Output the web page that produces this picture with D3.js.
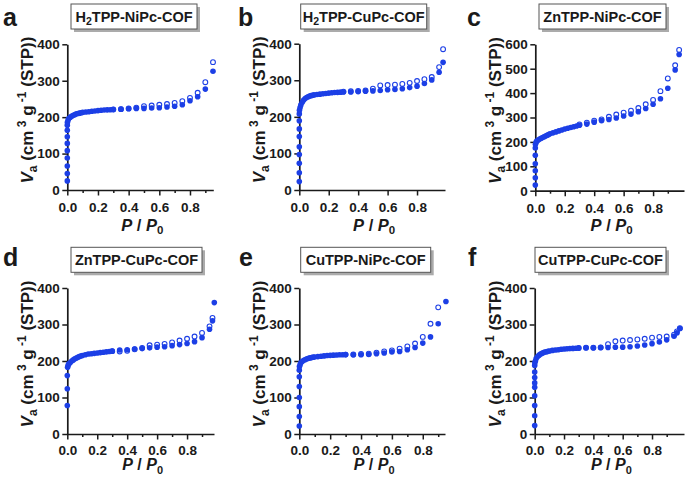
<!DOCTYPE html>
<html><head><meta charset="utf-8">
<script src="https://cdn.jsdelivr.net/npm/d3@7"></script>
<style>
body{margin:0;background:#fff}
svg{display:block}
text{font-family:Arial,"Liberation Sans",sans-serif;font-weight:bold;fill:#1a1a1a}
</style>
</head><body>
<svg id="chart" width="685" height="478"></svg>
<script>
// ---------- DATA ----------
const panelLetters = ["a","b","c","d","e","f"];
const titleParts = [
  ["H","2","TPP-NiPc-COF"],
  ["H","2","TPP-CuPc-COF"],
  ["ZnTPP-NiPc-COF"],
  ["ZnTPP-CuPc-COF"],
  ["CuTPP-NiPc-COF"],
  ["CuTPP-CuPc-COF"]
];
const xTickLabels = [0.0,0.2,0.4,0.6,0.8];
const xMinorTicks = [0.1,0.3,0.5,0.7,0.9];
const yMaxes = [400,400,600,400,400,400];

// a: H2TPP-NiPc-COF
const aAdsP = [0,0,0,0,0,0,0,0,0,0.001,0.005,0.01,0.02,0.03,0.04,0.05,0.06,0.07,0.08,0.09,0.1,0.12,0.14,0.16,0.18,0.2,0.22,0.24,0.26,0.28,0.3,0.35,0.4,0.45,0.5,0.55,0.6,0.65,0.7,0.75,0.8,0.85,0.9,0.95];
const aAdsV = [25,45,66,88,108,128,146,164,178,186,192,196,200,203,205,207,209,210,211,212,213,214,215,216,217,218,219,219.5,220,220.5,221,222,223,224,224,225,226,228,230,234,245,256,277,326];
const aDesP = [0.95,0.9,0.85,0.8,0.75,0.7,0.65,0.6,0.55,0.5,0.45,0.4,0.35,0.3];
const aDesV = [351,296,267,253,244,239,236,234,232,230,226,224,222,221];

// b: H2TPP-CuPc-COF
const bAdsP = [0,0,0,0,0,0,0,0,0,0.001,0.005,0.01,0.02,0.03,0.04,0.05,0.06,0.07,0.08,0.09,0.1,0.12,0.14,0.16,0.18,0.2,0.22,0.24,0.26,0.28,0.3,0.35,0.4,0.45,0.5,0.55,0.6,0.65,0.7,0.75,0.8,0.85,0.9,0.95,0.977];
const bAdsV = [23,47,73,97,118,146,167,189,208,218,225,232,240,246,250,253,255,257,258,259,260,261,262,263,264,265,266,266.5,267,267.5,268,268,269,270,271,272,274,275,277,280,284,291,301,322,349];
const bDesP = [0.977,0.95,0.9,0.85,0.8,0.75,0.7,0.65,0.6,0.55,0.5,0.45,0.4,0.35,0.3];
const bDesV = [385,336,309,303,298,293,290,288,287,286,277,272,271,270,269];

// c: ZnTPP-NiPc-COF
const cAdsP = [0,0,0,0,0,0,0.001,0.005,0.01,0.02,0.03,0.04,0.05,0.06,0.07,0.08,0.09,0.1,0.12,0.14,0.16,0.18,0.2,0.22,0.24,0.26,0.28,0.3,0.35,0.4,0.45,0.5,0.55,0.6,0.65,0.7,0.75,0.8,0.85,0.9,0.95,0.977];
const cAdsV = [23,53,82,110,145,175,190,198,203,208,212,215,218,221,224,227,230,233,237,241,245,249,253,256,259,262,265,268,273,281,287,292,298,306,314,324,337,354,377,420,495,558];
const cDesP = [0.977,0.95,0.9,0.85,0.8,0.75,0.7,0.65,0.6,0.55,0.5,0.45,0.4,0.35,0.3];
const cDesV = [577,514,460,408,372,354,339,328,320,312,303,292,287,279,272];

// d: ZnTPP-CuPc-COF
const dAdsP = [0,0,0,0.002,0.005,0.01,0.02,0.03,0.04,0.05,0.06,0.07,0.08,0.09,0.1,0.12,0.14,0.16,0.18,0.2,0.22,0.24,0.26,0.28,0.3,0.35,0.4,0.45,0.5,0.55,0.6,0.65,0.7,0.75,0.8,0.85,0.9,0.95,0.97,0.982];
const dAdsV = [78,124,160,183,188,192,196,200,203,206,208,210,212,213.5,215,217,219,220,221,222,223,224,225,226,227,230,231,233,234,236,238,239,242,245,248,253,264,287,310,360];
const dDesP = [0.97,0.95,0.9,0.85,0.8,0.75,0.7,0.65,0.6,0.55,0.5,0.45,0.4,0.35,0.3];
const dDesV = [318,295,277,267,261,256,251,247,245,243,236,232,228,226,227];

// e: CuTPP-NiPc-COF
const eAdsP = [0,0,0,0,0,0,0,0.001,0.005,0.01,0.02,0.03,0.04,0.05,0.06,0.07,0.08,0.09,0.1,0.12,0.14,0.16,0.18,0.2,0.22,0.24,0.26,0.28,0.3,0.35,0.4,0.45,0.5,0.55,0.6,0.65,0.7,0.75,0.8,0.85,0.9,0.95];
const eAdsV = [22,48,75,100,130,157,175,185,190,195,199,202,204,206,207.5,208.5,209.5,210.5,211,212,213,214,215,215.5,216,216.5,217,217,217.5,217,217,218,220,222,225,226,231,237,249,266,302,363];
const eDesP = [0.9,0.85,0.8,0.75,0.7,0.65,0.6,0.55,0.5,0.45,0.4,0.35,0.3];
const eDesV = [347,302,266,248,240,234,229,226.5,223,220,219,218,217.5];

// f: CuTPP-CuPc-COF
const fAdsP = [0,0,0,0,0,0,0,0,0,0.001,0.005,0.01,0.02,0.03,0.04,0.05,0.06,0.07,0.08,0.09,0.1,0.12,0.14,0.16,0.18,0.2,0.22,0.24,0.26,0.28,0.3,0.35,0.4,0.45,0.5,0.55,0.6,0.65,0.7,0.75,0.8,0.85,0.9,0.95,0.97,0.99];
const fAdsV = [23,50,78,105,128,140,155,170,188,195,200,207,212,216,219,221,223,224.5,225.5,226.5,227.5,229,230,231,232,233,233.5,234,234.5,235,235.5,236.5,236.5,237,237,238,238,239,241,244,247.5,252,258,268,277,289];
const fDesP = [0.99,0.97,0.95,0.9,0.85,0.8,0.75,0.7,0.65,0.6,0.55,0.5,0.45,0.4,0.35,0.3];
const fDesV = [290,281,272,267,266,264,261,259,257.5,256,254,246,237,236.5,236.5,235.5];

const adsP = [aAdsP,bAdsP,cAdsP,dAdsP,eAdsP,fAdsP];
const adsV = [aAdsV,bAdsV,cAdsV,dAdsV,eAdsV,fAdsV];
const desP = [aDesP,bDesP,cDesP,dDesP,eDesP,fDesP];
const desV = [aDesV,bDesV,cDesV,dDesV,eDesV,fDesV];

// ---------- LAYOUT ----------
const layout = [
  {x0:67.3, x1:213.3, xMax:0.952, yT:44.3, yB:190,  pad:7,   xlDy:40.5, xlFs:16.5, minor:true, box:[71,4,126,25], letter:[3,26]},
  {x0:299.3,x1:445,   xMax:0.99,  yT:43.7, yB:190,  pad:7,   xlDy:40.5, xlFs:16.5, minor:false,box:[300.7,4,126,25], letter:[238,26]},
  {x0:535.3,x1:684,   xMax:1.01,  yT:44.3, yB:190.7,pad:7,   xlDy:40,   xlFs:16.5, minor:true, box:[539,4,127,25], letter:[467,26]},
  {x0:67.3, x1:214,   xMax:0.98,  yT:288,  yB:434,  pad:5.5, xlDy:36,   xlFs:16,   minor:true, box:[71,247.3,131,25], letter:[3,266]},
  {x0:299.3,x1:445,   xMax:0.944, yT:288,  yB:434,  pad:5.5, xlDy:36,   xlFs:16,   minor:true, box:[300.7,247.3,130,25], letter:[239,266]},
  {x0:534.7,x1:684,   xMax:1.018, yT:288,  yB:434,  pad:5.5, xlDy:36,   xlFs:16,   minor:true, box:[535,247.3,131,25], letter:[468,266]}
];
const blue = "#1c3fe6";
const axisColor = "#1a1a1a";

const svg = d3.select("#chart");

layout.forEach((L, i) => {
  const g = svg.append("g");
  const x = d3.scaleLinear().domain([0, L.xMax]).range([L.x0, L.x1]);
  const y = d3.scaleLinear().domain([0, yMaxes[i]]).range([L.yB, L.yT]);

  const ya = g.append("g").attr("transform", `translate(${L.x0},0)`)
    .call(d3.axisLeft(y).tickValues(d3.range(0, yMaxes[i] + 1, 100)).tickSize(5).tickSizeOuter(0).tickPadding(2.5));
  const xa = g.append("g").attr("transform", `translate(0,${L.yB})`)
    .call(d3.axisBottom(x).tickValues(xTickLabels).tickFormat(d3.format(".1f")).tickSize(5.5).tickSizeOuter(0).tickPadding(L.pad));
  if (L.minor) {
    const xm = g.append("g").attr("transform", `translate(0,${L.yB})`)
      .call(d3.axisBottom(x).tickValues(xMinorTicks).tickFormat("").tickSize(3));
    xm.select(".domain").remove();
    xm.selectAll("line").attr("stroke", axisColor).attr("stroke-width", 1.5);
  }
  [ya, xa].forEach(a => {
    a.select(".domain").attr("stroke", axisColor).attr("stroke-width", 1.7);
    a.selectAll(".tick line").attr("stroke", axisColor).attr("stroke-width", 1.5);
    a.selectAll("text").attr("font-size", 13.5).attr("font-weight", "bold").attr("fill", axisColor)
      .attr("font-family", "Arial, 'Liberation Sans', sans-serif");
  });

  g.append("g").selectAll("circle").data(desP[i].map((p, k) => [p, desV[i][k]])).join("circle")
    .attr("cx", d => x(d[0])).attr("cy", d => y(d[1])).attr("r", 2.4)
    .attr("fill", "#fff").attr("stroke", blue).attr("stroke-width", 1.1);
  g.append("g").selectAll("circle").data(adsP[i].map((p, k) => [p, adsV[i][k]])).join("circle")
    .attr("cx", d => x(d[0])).attr("cy", d => y(d[1])).attr("r", 2.8)
    .attr("fill", blue);

  const xl = g.append("text").attr("x", (L.x0 + L.x1) / 2 + 2).attr("y", L.yB + L.xlDy)
    .attr("text-anchor", "middle").attr("font-size", L.xlFs);
  xl.append("tspan").attr("font-style", "italic").text("P");
  xl.append("tspan").text(" / ");
  xl.append("tspan").attr("font-style", "italic").text("P");
  xl.append("tspan").attr("font-size", L.xlFs - 5).attr("dy", 3.5).text("0");

  const cy = (L.yT + L.yB) / 2 - 7;
  const yl = g.append("text").attr("transform", `translate(${L.x0 - 34},${cy}) rotate(-90)`)
    .attr("text-anchor", "middle").attr("font-size", 17);
  yl.append("tspan").attr("font-style", "italic").text("V");
  yl.append("tspan").attr("font-size", 12).attr("dy", 4).text("a");
  yl.append("tspan").attr("dy", -4).text(" (cm");
  yl.append("tspan").attr("font-size", 12).attr("dy", -7).text(" 3");
  yl.append("tspan").attr("dy", 7).text(" g");
  yl.append("tspan").attr("font-size", 12).attr("dy", -7).text(" -1");
  yl.append("tspan").attr("dy", 7).text(" (STP))");

  g.append("text").attr("x", L.letter[0]).attr("y", L.letter[1]).attr("font-size", 25).text(panelLetters[i]);

  const [bx, by, bw, bh] = L.box;
  g.append("rect").attr("x", bx + 3).attr("y", by + 3).attr("width", bw).attr("height", bh).attr("fill", "#ababab");
  g.append("rect").attr("x", bx).attr("y", by).attr("width", bw).attr("height", bh)
    .attr("fill", "#fff").attr("stroke", "#555").attr("stroke-width", 1);
  const tt = g.append("text").attr("x", bx + bw / 2).attr("y", by + 18).attr("text-anchor", "middle").attr("font-size", 14.5);
  const parts = titleParts[i];
  if (parts.length === 3) {
    tt.append("tspan").text(parts[0]);
    tt.append("tspan").attr("font-size", 10.5).attr("dy", 3).text(parts[1]);
    tt.append("tspan").attr("dy", -3).text(parts[2]);
  } else {
    tt.append("tspan").text(parts[0]);
  }
});
</script>
</body></html>
